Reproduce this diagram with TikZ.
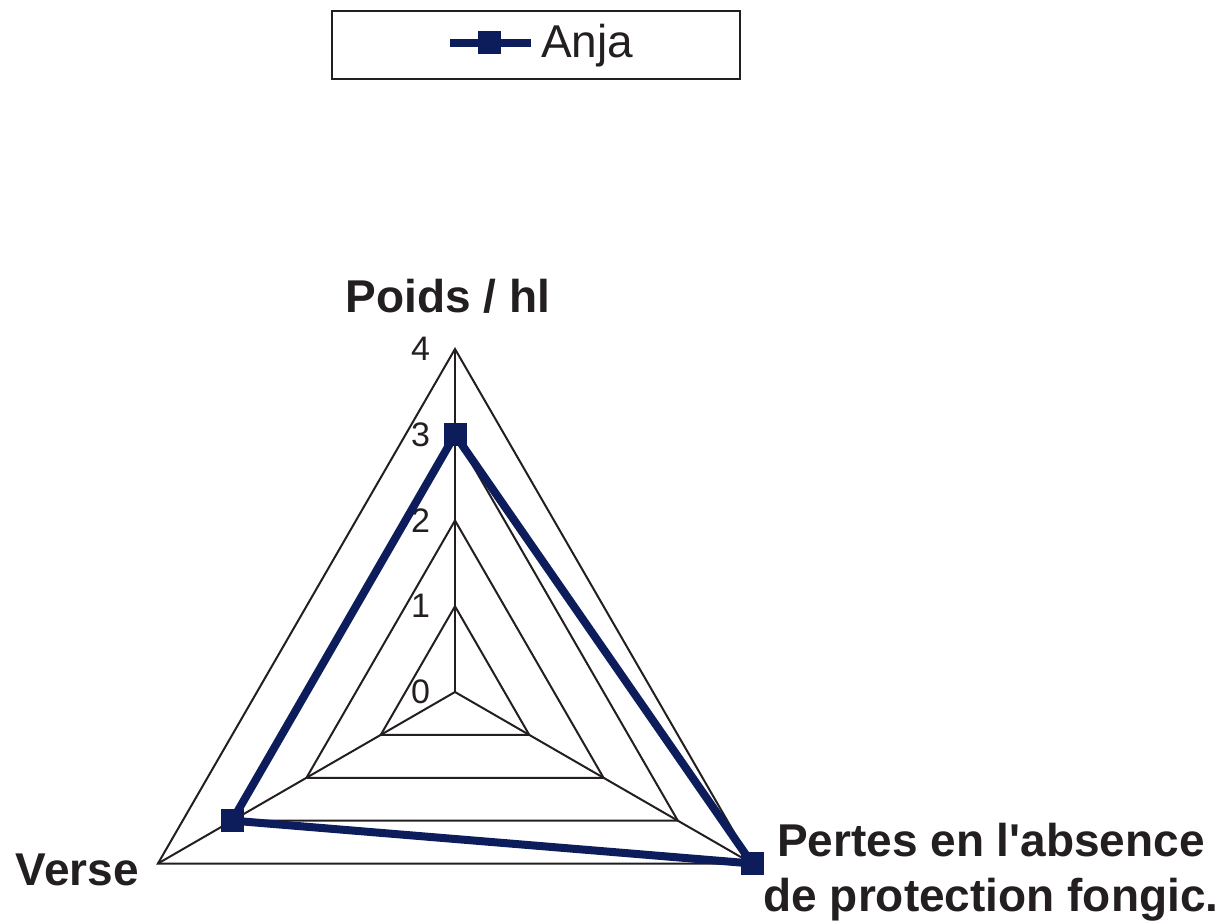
\documentclass[tikz,border=0pt]{standalone}
\usepackage{fontspec}
\setmainfont{Liberation Sans}[Ligatures=TeXOff]
\definecolor{anjablue}{RGB}{13, 29, 91}
\definecolor{inkgray}{RGB}{35, 31, 32}
\tikzset{every picture/.style={line width=1pt}}
\tikzset{anja line/.style={color=anjablue, line width=4pt, line join=miter},
  anja mark/.style={rectangle, fill=anjablue, minimum size=11.5pt, inner sep=0pt},
  axis label/.style={font=\fontsize{23}{27.5}\selectfont\bfseries, text=inkgray, inner sep=0pt},
  tick label/.style={font=\fontsize{17}{20}\selectfont, text=inkgray, inner sep=0pt, anchor=east}}

\begin{document}
\begin{tikzpicture}[x=0.5pt,y=0.5pt,yscale=-1]
\useasboundingbox (0,0) rectangle (1225,924);

%Legend
\node [draw=inkgray, minimum width=204pt, minimum height=34pt, inner sep=0pt] (legend) at (536,45) {};
\coordinate (legstart) at (450,43);
\coordinate (legend end) at (531,43);
\draw [anja line] (legstart) -- (legend end) ;
\node [anja mark] (legmark) at (489,43) {};
\node [anchor=west, font=\fontsize{23}{27.5}\selectfont, text=inkgray, inner sep=0pt] (legname) at (540,46) {Anja};

%Grid rings
\foreach \k in {1,...,4}
  \draw [inkgray] (455,692-85.75*\k) -- (455+74.26*\k,692+42.875*\k) -- (455-74.26*\k,692+42.875*\k) -- cycle ;

%Spokes
\coordinate (ctr) at (455,692);
\coordinate (poids) at (455,349);
\coordinate (pertes) at (752,863.5);
\coordinate (verse) at (158,863.5);
\draw [inkgray] (ctr) -- (poids) ;
\draw [inkgray] (ctr) -- (pertes) ;
\draw [inkgray] (ctr) -- (verse) ;

%Tick labels
\foreach \k in {0,...,4}
  \node [tick label] (tick\k) at (431,692-85.75*\k) {\k};

%Series Anja
\coordinate (val1) at (455,434.75);
\coordinate (val2) at (752,863.5);
\coordinate (val3) at (232.2,820.6);
\draw [anja line] (val1) -- (val2) -- (val3) -- cycle ;
\node [anja mark] (mark1) at (val1) {};
\node [anja mark] (mark2) at (val2) {};
\node [anja mark] (mark3) at (val3) {};

% Text Node
\node [axis label, anchor=base] (poidslabel) at (448,313) {Poids / hl};
\node [axis label, anchor=base west] (verselabel) at (15,885) {Verse};
\node [axis label, anchor=north, align=center] (perteslabel) at (991,822) {Pertes en l'absence\\de protection fongic.};
\end{tikzpicture}
\end{document}
